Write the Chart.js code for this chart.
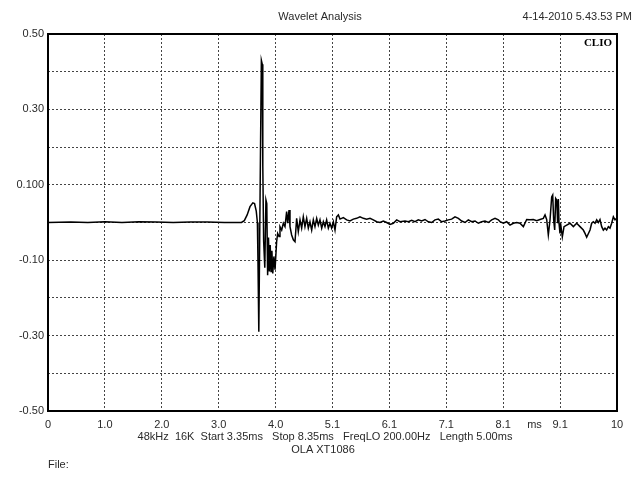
<!DOCTYPE html>
<html lang="en">
<head>
<meta charset="UTF-8">
<title>Wavelet Analysis</title>
<script src="https://cdn.jsdelivr.net/npm/chart.js@4/dist/chart.umd.min.js"></script>
<style>
  html, body { margin: 0; padding: 0; background: #fff; }
  #wrap { width: 640px; height: 480px; position: relative; }
</style>
</head>
<body>
<div id="wrap"><canvas id="chart" width="640" height="480"></canvas></div>
<script>
// Impulse response trace (time in ms, amplitude)
const timeMs = [
  0, 0.4, 0.7, 1.0, 1.3, 1.6, 1.9, 2.2, 2.5, 2.8, 3.1, 3.4,
  3.45, 3.5, 3.55, 3.6, 3.63, 3.66, 3.68, 3.69, 3.705, 3.72, 3.735, 3.75, 3.765, 3.775,
  3.79, 3.81, 3.83, 3.845, 3.86, 3.875, 3.89, 3.905, 3.92, 3.935, 3.95, 3.97, 3.99,
  4.018, 4.036, 4.06, 4.077, 4.107, 4.136, 4.165, 4.194, 4.212, 4.236, 4.253,
  4.282, 4.312, 4.341, 4.37, 4.399, 4.429, 4.458, 4.487, 4.516, 4.546, 4.575, 4.604,
  4.634, 4.663, 4.692, 4.722, 4.751, 4.78, 4.81, 4.839, 4.868, 4.897, 4.927, 4.956,
  4.985, 5.015, 5.044, 5.073, 5.103, 5.132, 5.19, 5.249, 5.307, 5.366, 5.424, 5.483,
  5.542, 5.6, 5.659, 5.717, 5.776, 5.835, 5.893, 5.952, 6.011, 6.069, 6.128, 6.186,
  6.274, 6.333, 6.391, 6.45, 6.508, 6.567, 6.626, 6.684, 6.743, 6.801, 6.86, 6.919,
  6.977, 7.036, 7.094, 7.153, 7.212, 7.27, 7.329, 7.387, 7.446, 7.505, 7.563, 7.622,
  7.68, 7.739, 7.798, 7.856, 7.915, 7.944, 8.002, 8.061, 8.12, 8.178, 8.237, 8.295,
  8.354, 8.413, 8.471, 8.53, 8.588, 8.647, 8.705, 8.735, 8.764, 8.793, 8.823, 8.852,
  8.87, 8.887, 8.905, 8.922, 8.94, 8.957, 8.969, 8.981, 8.998, 9.016, 9.039, 9.069,
  9.116, 9.174, 9.233, 9.291, 9.35, 9.408, 9.438, 9.467, 9.526, 9.555, 9.584, 9.614,
  9.643, 9.672, 9.701, 9.731, 9.76, 9.789, 9.818, 9.848, 9.877, 9.906, 9.936, 9.965, 9.994
];
const amplitude = [
  0, 0.001, 0, 0.002, 0, 0.002, 0.001, 0, 0.001, 0.001, 0, 0,
  0.005, 0.02, 0.042, 0.052, 0.05, 0.03, 0, -0.1, -0.29, -0.05, 0.2, 0.43, 0.42, 0.15,
  -0.05, -0.12, 0.06, 0.05, -0.14, -0.04, -0.13, -0.06, -0.13, -0.075, -0.135, -0.09, -0.125,
  -0.051, -0.029, -0.037, -0.011, -0.02, -0.002, -0.011, 0.029, -0.002, 0.033, -0.011,
  -0.033, -0.046, -0.051, 0.011, -0.024, 0.007, -0.015, 0.015, -0.011, 0.011, -0.015, 0.002,
  -0.02, 0.007, -0.011, 0.011, -0.007, 0.007, -0.015, 0.002, -0.011, 0.007, -0.015, -0.002,
  -0.015, 0.002, -0.02, 0.015, 0.02, 0.009, 0.013, 0.007, 0.004, 0.009, 0.011, 0.015,
  0.011, 0.009, 0.011, 0.007, 0.002, 0, 0.004, 0, -0.005, -0.002, 0.007, 0.002,
  0.004, 0.002, 0.006, 0.002, 0.007, 0.004, 0.008, 0.002, 0, 0.007, 0.009, 0.002,
  0.004, 0.007, 0.009, 0.015, 0.011, 0.004, 0, 0.007, 0.002, 0.004, -0.002, 0.002,
  0.004, 0, 0.007, 0.011, 0.007, 0.002, -0.002, 0.002, -0.007, -0.002, 0, -0.002,
  -0.011, 0.008, 0.007, 0.008, 0.005, 0.008, 0.011, 0.02, 0.008, -0.033, 0.007, 0.068,
  0.073, 0.007, -0.02, 0.064, 0.06, -0.002, 0.062, -0.002, -0.029, -0.011, -0.038, -0.011,
  -0.007, -0.002, -0.011, -0.002, -0.011, -0.02, -0.029, -0.039, -0.02, -0.002, 0.002, -0.002,
  0.007, 0, 0.008, -0.011, -0.02, -0.015, -0.02, -0.011, -0.015, -0.002, 0.015, 0.007, 0.011
];

// Axis ticks as printed by the analyser
const xTickValues = [0, 1, 2, 3, 4, 5, 6, 7, 8, 8.55, 9, 10];
const xTickLabels = ['0', '1.0', '2.0', '3.0', '4.0', '5.1', '6.1', '7.1', '8.1', 'ms', '9.1', '10'];
const yTickValues = [-0.5, -0.4, -0.3, -0.2, -0.1, 0, 0.1, 0.2, 0.3, 0.4, 0.5];
const yTickLabels = ['-0.50', '', '-0.30', '', '-0.10', '', '0.100', '', '0.30', '', '0.50'];

const FONT = '"Liberation Sans", Arial, sans-serif';
const TEXT = '#2a2a2a';

// header, footer and frame drawn on top of the chart
const decorations = {
  id: 'decorations',
  afterDraw(chart) {
    const { ctx, chartArea: a } = chart;
    ctx.save();
    ctx.strokeStyle = '#000';
    ctx.lineWidth = 2;
    ctx.strokeRect(a.left, a.top, a.right - a.left, a.bottom - a.top);

    ctx.fillStyle = TEXT;
    ctx.font = '11px ' + FONT;
    ctx.textBaseline = 'middle';
    ctx.textAlign = 'center';
    ctx.fillText('Wavelet Analysis', 320, 17);
    ctx.textAlign = 'right';
    ctx.fillText('4-14-2010 5.43.53 PM', 632, 17);
    ctx.textAlign = 'center';
    ctx.fillText('48kHz  16K  Start 3.35ms   Stop 8.35ms   FreqLO 200.00Hz   Length 5.00ms', 325, 437);
    ctx.fillText('OLA XT1086', 323, 450);
    ctx.textAlign = 'left';
    ctx.fillText('File:', 48, 465);

    ctx.fillStyle = '#000';
    ctx.font = 'bold 11px "Liberation Serif", "DejaVu Serif", serif';
    ctx.textAlign = 'right';
    ctx.fillText('CLIO', 612, 43);
    ctx.restore();
  }
};

new Chart(document.getElementById('chart'), {
  type: 'line',
  data: {
    datasets: [{
      data: timeMs.map((t, i) => ({ x: t, y: amplitude[i] })),
      borderColor: '#000',
      borderWidth: 1.5,
      pointRadius: 0,
      tension: 0,
      fill: false
    }]
  },
  options: {
    responsive: false,
    animation: false,
    layout: { padding: { left: 0, right: 23, top: 34, bottom: 0 } },
    plugins: { legend: { display: false }, tooltip: { enabled: false } },
    scales: {
      x: {
        type: 'linear',
        min: 0,
        max: 10,
        afterBuildTicks: s => { s.ticks = xTickValues.map(v => ({ value: v })); },
        afterFit: s => { s.height = 69; },
        border: { display: false, dash: [2, 2] },
        grid: {
          color: c => (c.tick && xTickLabels[c.index] === 'ms') ? 'rgba(0,0,0,0)' : '#444',
          lineWidth: 1,
          drawTicks: false
        },
        ticks: {
          autoSkip: false,
          maxRotation: 0,
          padding: 7,
          color: TEXT,
          font: { family: FONT, size: 11 },
          callback: (v, i) => xTickLabels[i]
        }
      },
      y: {
        min: -0.5,
        max: 0.5,
        afterBuildTicks: s => { s.ticks = yTickValues.map(v => ({ value: v })); },
        afterFit: s => { s.width = 48; },
        border: { display: false, dash: [2, 2] },
        grid: { color: '#444', lineWidth: 1, drawTicks: false },
        ticks: {
          autoSkip: false,
          padding: 4,
          color: TEXT,
          font: { family: FONT, size: 11 },
          callback: (v, i) => yTickLabels[i]
        }
      }
    }
  },
  plugins: [decorations]
});
</script>
</body>
</html>
